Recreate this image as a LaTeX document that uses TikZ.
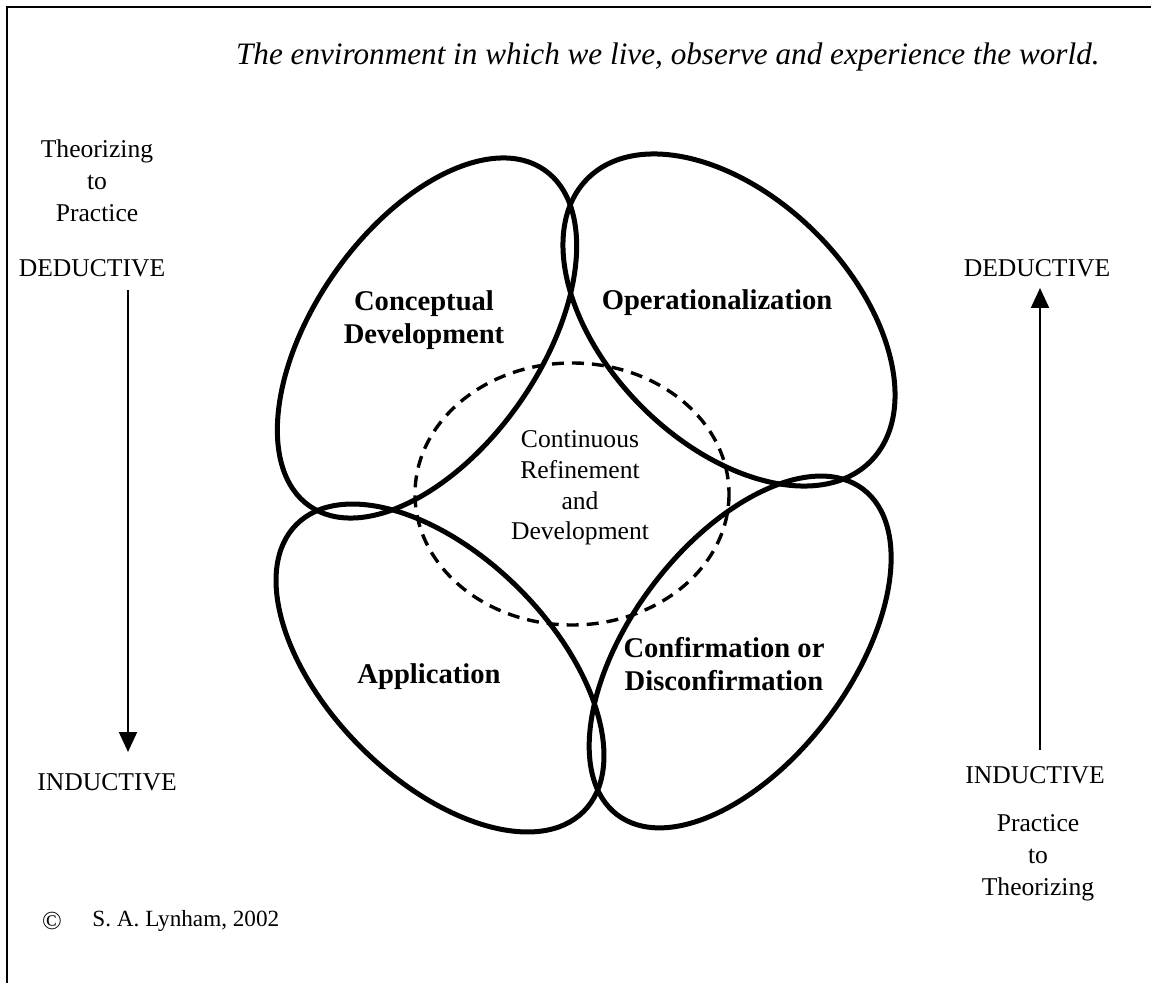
\documentclass[tikz,border=0pt]{standalone}
\usepackage{fontspec}
\setmainfont{Liberation Serif}
\usetikzlibrary{arrows.meta}
\begin{document}
\begin{tikzpicture}[x=0.5pt,y=-0.5pt,
  loop/.style={line width=2.5pt},
  core/.style={line width=1.7pt, dash pattern=on 6pt off 4pt},
  frame/.style={line width=1.1pt},
  flow/.style={line width=1pt, -{Triangle[width=9pt,length=10pt]}},
  lbl/.style={font=\fontsize{12.8}{16}\selectfont, align=center, inner sep=0pt},
  corelbl/.style={font=\fontsize{12.8}{15.3}\selectfont, align=center, inner sep=0pt},
  stage/.style={font=\fontsize{14.3}{16.8}\selectfont\bfseries, align=center, inner sep=0pt},
]
\useasboundingbox (0,0) rectangle (1151,983);
% page frame (top and left edges)
\draw[frame] (7,983) -- (7,7) -- (1151,7);

% heading
\node[lbl, anchor=base east, font=\fontsize{15.6}{18}\selectfont\itshape] (env) at (1100,65)
  {The environment in which we live, observe and experience the world.};

% left side: theorizing to practice
\node[lbl] (thL) at (97,181) {Theorizing\\to\\Practice};
\node[lbl] (dedL) at (92,268) {DEDUCTIVE};
\node[lbl] (indL) at (107,782) {INDUCTIVE};
\coordinate (lTop) at (128,290);
\coordinate (lBot) at (128,752);
\draw[flow] (lTop) -- (lBot);

% right side: practice to theorizing
\node[lbl] (dedR) at (1037,268) {DEDUCTIVE};
\node[lbl] (indR) at (1035,775) {INDUCTIVE};
\node[lbl] (ptR) at (1038,858) {Practice\\to\\Theorizing};
\coordinate (rBot) at (1040,750);
\coordinate (rTop) at (1040,288);
\draw[flow] (rBot) -- (rTop);

% the four phase loops
\coordinate (cdC) at (427,338);
\coordinate (opC) at (729,320);
\coordinate (apC) at (440,668);
\coordinate (cfC) at (740,652);
\draw[loop, rotate around={55:(cdC)}] (cdC) ellipse [x radius=205, y radius=113];
\draw[loop, rotate around={-45:(opC)}] (opC) ellipse [x radius=200, y radius=123];
\draw[loop, rotate around={-45:(apC)}] (apC) ellipse [x radius=203, y radius=112];
\draw[loop, rotate around={53:(cfC)}] (cfC) ellipse [x radius=204, y radius=110];

% central refinement loop
\coordinate (coreC) at (572,494);
\draw[core] (coreC) ellipse [x radius=157, y radius=131];
\node[corelbl] (core) at (580,488) {Continuous\\Refinement\\and\\Development};

% phase labels
\node[stage] (cd) at (424,320) {Conceptual\\Development};
\node[stage] (op) at (717,303) {Operationalization};
\node[stage] (app) at (429,677) {Application};
\node[stage] (conf) at (724,664) {Confirmation or\\Disconfirmation};

% copyright line
\node[lbl, font=\fontsize{13}{16}\selectfont] (copy) at (52,921) {\textcopyright};
\node[lbl, anchor=west, font=\fontsize{11.6}{14}\selectfont] (auth) at (92,921) {S. A. Lynham, 2002};
\end{tikzpicture}
\end{document}
